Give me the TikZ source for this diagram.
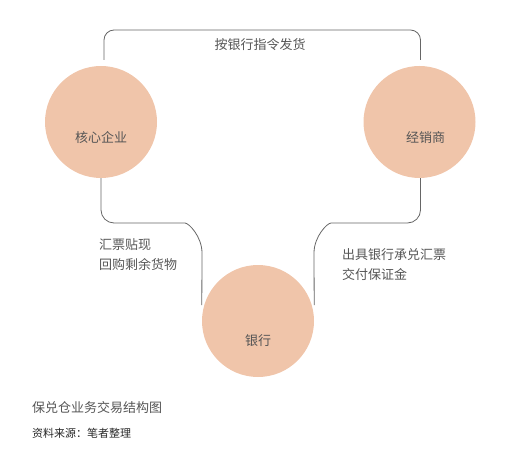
\documentclass[tikz,border=0pt]{standalone}
\usepackage{fontspec}
\setmainfont{Noto Sans CJK SC}
\usetikzlibrary{positioning}
\definecolor{peach}{HTML}{F0C5AA}
\definecolor{txtgray}{HTML}{555555}
\definecolor{linegray}{HTML}{666666}
\tikzset{
    party/.style ={circle, fill=peach, minimum size=112pt, inner sep=0pt},
    conn/.style = {draw=linegray, line width=0.8pt},
    lbl/.style = {text=txtgray, font=\fontsize{13}{20}\selectfont, align=left, inner sep=0pt}
}
\begin{document}
\begin{tikzpicture}[x=1pt,y=-1pt]
  \useasboundingbox (0,0) rectangle (508,454);

  \node[party, label={[lbl,yshift=-16pt]center:核心企业}] (core) at (101,122) {};
  \node[party, label={[lbl,xshift=6pt,yshift=-16pt]center:经销商}] (dealer) at (419.5,122) {};
  \node[party, label={[lbl,yshift=-20pt]center:银行}] (bank) at (258,321) {};

  \draw[conn, rounded corners=10pt] ([xshift=3pt,yshift=6pt]core.north) |- (260,30) -| ([xshift=1pt,yshift=6pt]dealer.north);
  \draw[conn] (core.south) [rounded corners=13pt] |- (172,223) [sharp corners]
     .. controls (188.6,223) and (202,236.4) .. (202,253) -- ([yshift=16pt]bank.west);
  \draw[conn] ([xshift=1pt]dealer.south) [rounded corners=13pt] |- (344,223) [sharp corners]
     .. controls (327.4,223) and (314,236.4) .. (314,253) -- ([yshift=16pt]bank.east);

  \node[lbl] (ship) at (260,45) {按银行指令发货};
  \node[lbl, anchor=west] (discount) at (99,255) {汇票贴现\\回购剩余货物};
  \node[lbl, anchor=west] (accept) at (342,265) {出具银行承兑汇票\\交付保证金};

  \node[lbl, anchor=west] (title) at (32,408) {保兑仓业务交易结构图};
  \node[lbl, anchor=west, font=\fontsize{11}{13}\selectfont, text=black!85] (source) at (32,433) {资料来源：笔者整理};
\end{tikzpicture}
\end{document}
